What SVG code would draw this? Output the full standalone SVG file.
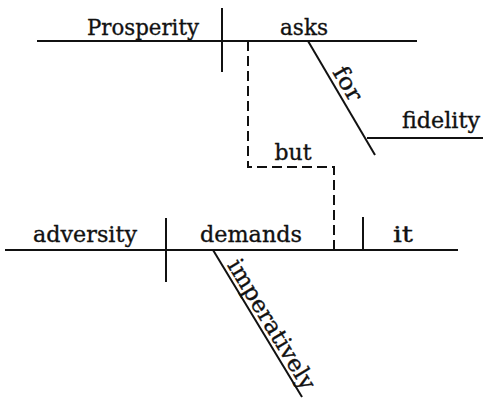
<svg xmlns="http://www.w3.org/2000/svg" width="495" height="400" viewBox="0 0 495 400">
<style>
  .ln{stroke:#111;stroke-width:2;fill:none;stroke-linecap:butt}
  .dash{stroke:#111;stroke-width:2;fill:none;stroke-dasharray:10 5}
  text{font-family:"DejaVu Serif","Liberation Serif",serif;font-size:23px;fill:#111;stroke:#111;stroke-width:0.35;text-anchor:middle}
</style>
<rect width="495" height="400" fill="#fff"/>
<g id="connectors">
  <line class="ln" x1="37" y1="41" x2="417" y2="41"/>
  <line class="ln" x1="222" y1="8" x2="222" y2="72"/>
  <line class="ln" x1="308" y1="41" x2="375" y2="155"/>
  <line class="ln" x1="367" y1="138" x2="483" y2="138"/>
  <path class="dash" d="M248,41 V167 H334 V250"/>
  <line class="ln" x1="5" y1="250" x2="458" y2="250"/>
  <line class="ln" x1="166" y1="218" x2="166" y2="282"/>
  <line class="ln" x1="363" y1="217" x2="363" y2="250"/>
  <line class="ln" x1="213" y1="250" x2="302" y2="397"/>
</g>
<g id="prosperity"><text x="143" y="35" textLength="112" lengthAdjust="spacingAndGlyphs">Prosperity</text></g>
<g id="asks"><text x="304" y="35" textLength="48" lengthAdjust="spacingAndGlyphs">asks</text></g>
<g id="for"><text transform="translate(308,41) rotate(59.6)" x="57" y="-5" textLength="36" lengthAdjust="spacingAndGlyphs">for</text></g>
<g id="fidelity"><text x="441" y="128" textLength="78" lengthAdjust="spacingAndGlyphs">fidelity</text></g>
<g id="but"><text x="293" y="160" textLength="37" lengthAdjust="spacingAndGlyphs">but</text></g>
<g id="adversity"><text x="85" y="242" textLength="104" lengthAdjust="spacingAndGlyphs">adversity</text></g>
<g id="demands"><text x="251" y="242" textLength="102" lengthAdjust="spacingAndGlyphs">demands</text></g>
<g id="it"><text x="403" y="242" textLength="20" lengthAdjust="spacingAndGlyphs">it</text></g>
<g id="imperatively"><text transform="translate(213,250) rotate(58.8)" x="94" y="-4" textLength="148" lengthAdjust="spacingAndGlyphs">imperatively</text></g>
</svg>
